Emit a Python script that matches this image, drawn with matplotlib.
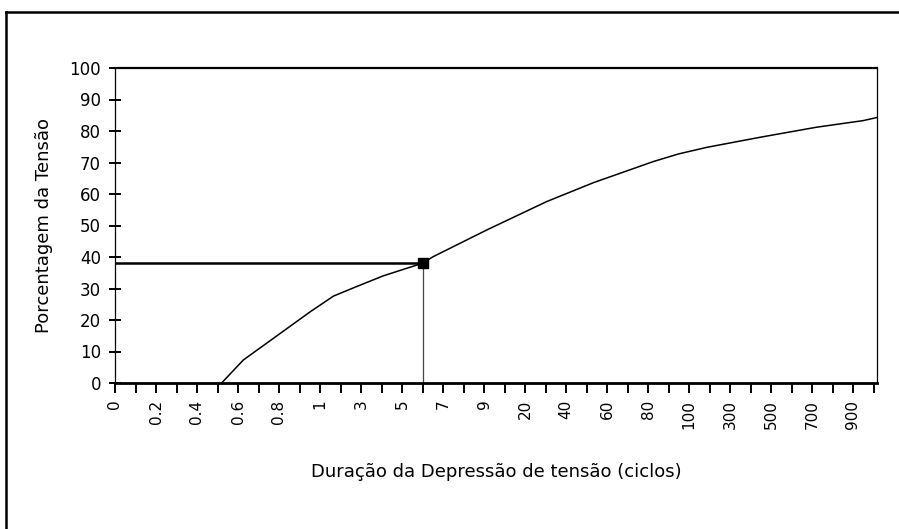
import matplotlib
matplotlib.use("Agg")
import matplotlib.pyplot as plt
from matplotlib.lines import Line2D
import numpy as np

# category labels along the duration axis (cycles)
duration_labels = ["0", "0.2", "0.4", "0.6", "0.8", "1", "3", "5", "7", "9",
                   "20", "40", "60", "80", "100", "300", "500", "700", "900"]

# curve, positions given in category-index units along the x axis
curve_pos = [2.60, 3.13, 3.94, 4.76, 5.33, 5.89, 6.54, 7.11, 7.50, 7.76,
             9.07, 10.53, 11.67, 13.13, 13.74, 14.43, 15.73, 17.11, 18.25, 18.59]
curve_val = [0.0, 7.3, 14.9, 22.6, 27.6, 30.6, 34.0, 36.4, 38.0, 40.1,
             48.6, 57.6, 63.6, 70.3, 72.7, 74.8, 78.0, 81.2, 83.3, 84.3]

# highlighted reading: about 6 cycles -> 38 %
mark_pos = 7.5
mark_val = 38.0

y_ticks = list(range(0, 101, 10))

fig = plt.figure(figsize=(8.99, 5.29), dpi=100)
ax = fig.add_axes([115 / 899, 1 - 383 / 529, (877 - 115) / 899, (383 - 68) / 529])

ax.plot(curve_pos, curve_val, color="black", lw=1.1)

# reference lines to the marked point
ax.plot([0, mark_pos], [mark_val, mark_val], color="black", lw=1.8)
ax.plot([mark_pos, mark_pos], [0, mark_val], color="#444444", lw=0.9)
ax.plot([mark_pos], [mark_val], marker="s", ms=6.5, color="black")

ax.set_xlim(0, (877 - 115) / 41.0)
ax.set_ylim(0, 100)

ax.set_xticks(np.arange(len(duration_labels)))
ax.set_xticklabels(duration_labels, rotation=90, fontsize=11, va="top")
ax.set_xticks(np.arange(0.5, 18.6, 1.0), minor=True)
ax.tick_params(axis="x", which="both", direction="out", length=7, width=1.4, pad=5)

ax.set_yticks(y_ticks)
ax.set_yticklabels([str(v) for v in y_ticks], fontsize=12)
ax.tick_params(axis="y", direction="inout", length=8, width=1.4, pad=6)

ax.spines["top"].set_linewidth(1.6)
ax.spines["bottom"].set_linewidth(2.0)
ax.spines["left"].set_linewidth(0.9)
ax.spines["right"].set_linewidth(0.9)

ax.set_xlabel("Duração da Depressão de tensão (ciclos)", fontsize=13)
ax.xaxis.set_label_coords(0.5, -(463 - 383) / (383 - 68))
ax.set_ylabel("Porcentagem da Tensão", fontsize=13)
ax.yaxis.set_label_coords(-(115 - 53) / (877 - 115), 0.5)

# outer frame (left and top edges)
fig.add_artist(Line2D([6 / 899, 6 / 899], [0, 1 - 12 / 529], color="black", lw=1.8,
                      transform=fig.transFigure))
fig.add_artist(Line2D([6 / 899, 1], [1 - 12 / 529, 1 - 12 / 529], color="black", lw=1.8,
                      transform=fig.transFigure))

fig.savefig("out.png", dpi=100)
